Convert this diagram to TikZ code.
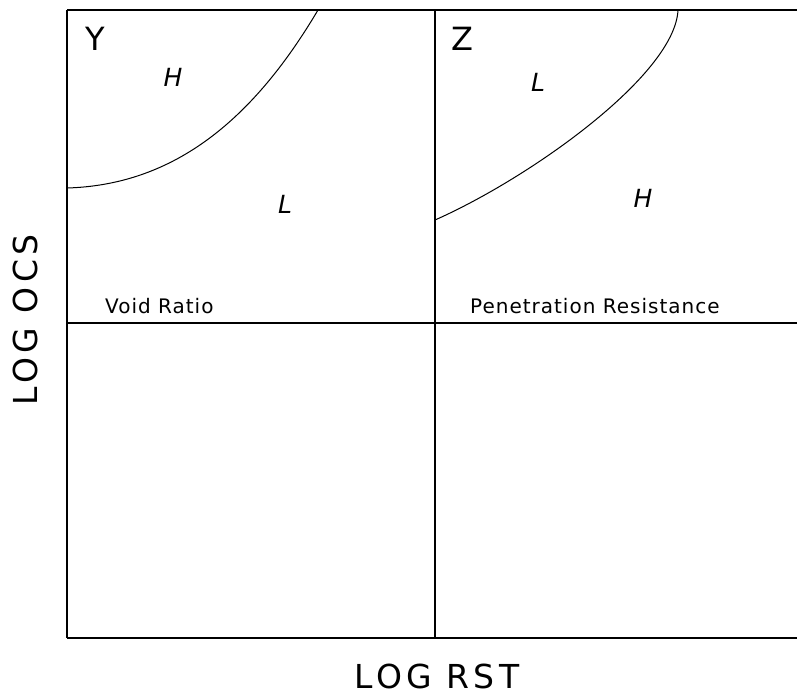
\documentclass[tikz,border=0pt]{standalone}
\usepackage{fontspec}
\setmainfont{DejaVu Sans}
\usetikzlibrary{positioning}

\begin{document}
\begin{tikzpicture}[
      x=1pt, y=-1pt,
      frame/.style={line width=1.8pt},
      bound/.style={line width=1pt},
      panel/.style={font=\fontsize{32}{32}\selectfont, inner sep=0pt},
      zone/.style={font=\fontsize{25}{25}\selectfont\itshape, inner sep=0pt},
      prop/.style={font=\fontsize{20}{20}\selectfont\addfontfeature{LetterSpace=5},
                   inner sep=0pt, anchor=base west},
      axis/.style={font=\fontsize{33}{33}\selectfont\addfontfeature{LetterSpace=13},
                   inner sep=0pt}
    ]
    \useasboundingbox (0,0) rectangle (797,696);

    % frame of the four panels
    \draw[frame] (67,10) -- (797,10);
    \draw[frame] (67,323) -- (797,323);
    \draw[frame] (67,638) -- (797,638);
    \draw[frame] (67,10) -- (67,638);
    \draw[frame] (435,10) -- (435,638);

    % boundaries between high and low
    \draw[bound] (67,188) .. controls (170,185) and (250,125) .. (318,10);
    \draw[bound] (435,220) .. controls (530,178) and (675,75) .. (678,10);

    \node[panel] (y)  at (95,39)  {Y};
    \node[panel] (z)  at (462,39) {Z};
    \node[zone]  (yh) at (173,77)  {H};
    \node[zone]  (yl) at (285,204) {L};
    \node[zone]  (zl) at (538,82)  {L};
    \node[zone]  (zh) at (643,198) {H};

    \node[prop] (void) at (105,313) {Void Ratio};
    \node[prop] (pen)  at (470,313) {Penetration Resistance};

    \node[axis] (rst) at (437,676) {LOG RST};
    \node[axis, rotate=90] (ocs) at (25,320) {LOG OCS};
  \end{tikzpicture}
\end{document}
